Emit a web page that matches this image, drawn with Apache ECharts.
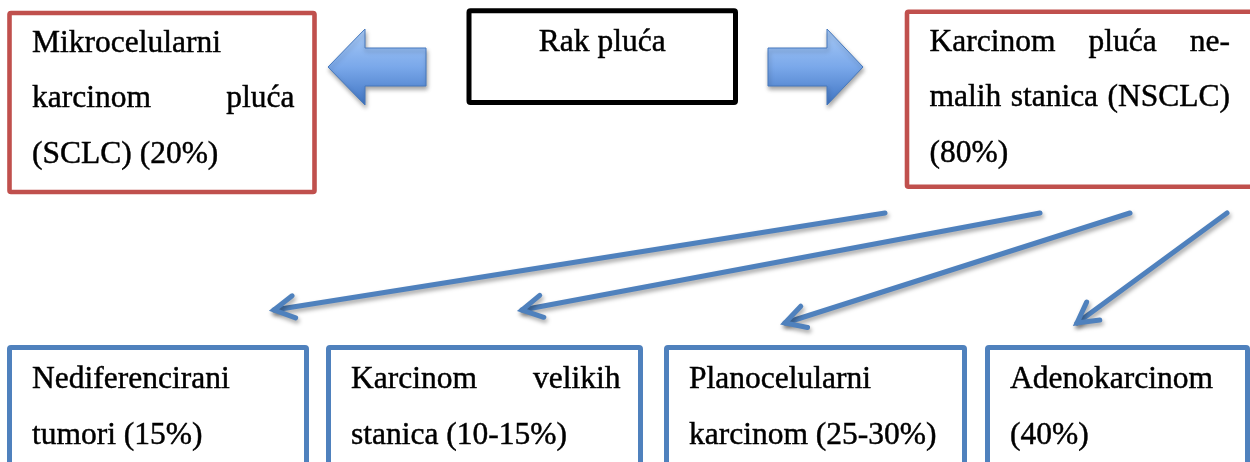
<!DOCTYPE html>
<html>
<head>
<meta charset="utf-8">
<script src="https://cdn.jsdelivr.net/npm/echarts@6/dist/echarts.min.js"></script>
<style>html,body{margin:0;padding:0;background:#fff;overflow:hidden}#chart{width:1250px;height:462px}</style>
</head>
<body>
<div id="chart"></div>
<script>
// ---- content ----
const rootLines = ['Rak pluća'];
const mainLines = [
  ['Mikrocelularni', 'karcinom pluća', '(SCLC) (20%)'],
  ['Karcinom pluća ne-', 'malih stanica (NSCLC)', '(80%)']
];
const subLines = [
  ['Nediferencirani', 'tumori (15%)'],
  ['Karcinom velikih', 'stanica (10-15%)'],
  ['Planocelularni', 'karcinom (25-30%)'],
  ['Adenokarcinom', '(40%)']
];

// ---- layout (data space: x 0..1250, y 0..462 top-down) ----
const rootBox = [469, 10.8, 735.5, 102.5];
const mainBoxes = [[9.5, 13, 314.5, 192], [907, 11.7, 1262, 186.7]];
const subBoxes = [[9.5, 347.5, 306.5, 495], [328.5, 347.5, 640.5, 495], [666.5, 347.5, 964.5, 495], [987.5, 347.5, 1247.5, 495]];
const blockArrows = [[426, 365, 328], [768, 827, 863]]; // tail, head base, tip
const blockArrowY = [29, 48, 86, 105]; // head top, shaft top, shaft bottom, head bottom
const connectors = [[[885, 213], [274, 310]], [[1040, 213], [522, 310]], [[1130, 213], [785, 323]], [[1227, 213], [1077, 323]]];

const FONT_SIZE = 31.5;
const FONT_FAMILY = 'Liberation Serif';
const PAD_L = 22.5, PAD_R = 20;
const LINE1 = 41, LINE_GAP = 55.5;
const mctx = document.createElement('canvas').getContext('2d');
mctx.font = FONT_SIZE + 'px "' + FONT_FAMILY + '"';
const measure = t => mctx.measureText(t).width;

function textEl(str, x, baseline, align) {
  return { type: 'text', x: x, y: baseline - FONT_SIZE * 0.337,
    style: { text: str, fontFamily: FONT_FAMILY, fontSize: FONT_SIZE, fill: '#000',
      stroke: '#000', lineWidth: 0.45, align: align || 'left', verticalAlign: 'middle' } };
}

function boxGroup(api, box, lines, stroke, lw, opts) {
  opts = opts || {};
  const p0 = api.coord([box[0], box[1]]);
  const p1 = api.coord([box[2], box[3]]);
  const children = [{ type: 'rect', shape: { x: p0[0], y: p0[1], width: p1[0] - p0[0], height: p1[1] - p0[1], r: 1.5 },
    style: { fill: '#fff', stroke: stroke, lineWidth: lw } }];
  const left = p0[0] + PAD_L;
  const right = opts.right ? api.coord([opts.right, 0])[0] : p1[0] - PAD_R;
  lines.forEach((ln, i) => {
    const base = p0[1] + (opts.line1 || LINE1) + i * LINE_GAP;
    if (opts.center) {
      children.push(textEl(ln, (p0[0] + p1[0]) / 2, base, 'center'));
      return;
    }
    const words = ln.split(' ');
    if (i < lines.length - 1 && words.length > 1) {
      const widths = words.map(measure);
      const total = widths.reduce((a, b) => a + b, 0);
      const gap = (right - left - total) / (words.length - 1);
      let x = left;
      words.forEach((w, k) => { children.push(textEl(w, x, base, 'left')); x += widths[k] + gap; });
    } else {
      children.push(textEl(ln, left, base, 'left'));
    }
  });
  return { type: 'group', children: children };
}

const option = {
  animation: false,
  backgroundColor: '#fff',
  grid: { left: 0, right: 0, top: 0, bottom: 0 },
  xAxis: { type: 'value', min: 0, max: 1250, show: false },
  yAxis: { type: 'value', min: 0, max: 462, inverse: true, show: false },
  series: [
    { // connector arrows
      type: 'custom', silent: true, data: connectors.map((c, i) => [i]),
      renderItem: (params, api) => {
        const c = connectors[params.dataIndex];
        const a = api.coord(c[0]), b = api.coord(c[1]);
        const dx = a[0] - b[0], dy = a[1] - b[1], L = Math.hypot(dx, dy);
        const ux = dx / L, uy = dy / L, ang = 29 * Math.PI / 180, len = 23;
        const arm = s => [b[0] + len * (ux * Math.cos(s * ang) - uy * Math.sin(s * ang)), b[1] + len * (ux * Math.sin(s * ang) + uy * Math.cos(s * ang))];
        const st = { stroke: '#4F81BD', lineWidth: 5, lineCap: 'round', lineJoin: 'miter', fill: null,
          shadowColor: 'rgba(0,0,0,0.35)', shadowBlur: 4, shadowOffsetX: 1.5, shadowOffsetY: 3 };
        return { type: 'group', children: [
          { type: 'polyline', shape: { points: [a, b] }, style: st },
          { type: 'polyline', shape: { points: [arm(1), b, arm(-1)] }, style: st }
        ] };
      }
    },
    { // block arrows
      type: 'custom', silent: true, data: blockArrows.map((c, i) => [i]),
      renderItem: (params, api) => {
        const [tail, hb, tip] = blockArrows[params.dataIndex];
        const [ht, st, sb, hbt] = blockArrowY;
        const mid = (ht + hbt) / 2;
        const pts = [[tail, st], [hb, st], [hb, ht], [tip, mid], [hb, hbt], [hb, sb], [tail, sb]].map(p => api.coord(p));
        return { type: 'polygon', shape: { points: pts },
          style: { fill: new echarts.graphic.LinearGradient(0, 0, 0, 1, [
              { offset: 0, color: '#A9CBF7' }, { offset: 0.5, color: '#7AA8EA' }, { offset: 1, color: '#3F74C2' }]),
            stroke: '#4679BE', lineWidth: 1,
            shadowColor: 'rgba(0,0,0,0.35)', shadowBlur: 4, shadowOffsetX: 1, shadowOffsetY: 3 } };
      }
    },
    { // root box
      type: 'custom', silent: true, data: [[0]],
      renderItem: (params, api) => boxGroup(api, rootBox, rootLines, '#000', 5, { center: true, line1: 42.5 })
    },
    { // main boxes
      type: 'custom', silent: true, data: mainBoxes.map((c, i) => [i]),
      renderItem: (params, api) => {
        const i = params.dataIndex;
        return boxGroup(api, mainBoxes[i], mainLines[i], '#C0504D', 4.6, i === 1 ? { right: 1230, line1: 41.5 } : {});
      }
    },
    { // subtype boxes
      type: 'custom', silent: true, data: subBoxes.map((c, i) => [i]),
      renderItem: (params, api) => boxGroup(api, subBoxes[params.dataIndex], subLines[params.dataIndex], '#4F81BD', 5, { line1: 43 })
    }
  ]
};
const chart = echarts.init(document.getElementById('chart'), null, { renderer: 'canvas' });
chart.setOption(option);
</script>
</body>
</html>
